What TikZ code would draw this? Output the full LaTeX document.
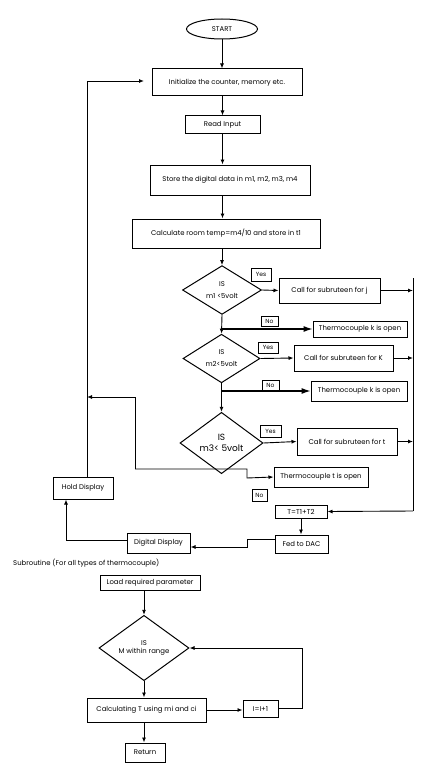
\documentclass[tikz,border=0pt]{standalone}
\usepackage{fontspec}
\setmainfont{Poppins}
\usetikzlibrary{shapes.geometric,arrows.meta}

\begin{document}
\begin{tikzpicture}
[x=1pt,y=-1pt,
  lineDecorate/.style={-{Latex[length=5pt,width=4pt]},line width=0.9pt},
  bigDecorate/.style={-{Latex[length=9pt,width=6pt]},line width=1.1pt},
  plainDecorate/.style={-,line width=0.9pt},
  boxDecorate/.style={shape=rectangle,draw,line width=1pt,inner sep=0pt,
    font=\fontsize{6.9}{8}\selectfont},
  tagDecorate/.style={shape=rectangle,draw,line width=0.8pt,inner sep=0pt,
    font=\fontsize{6}{7}\selectfont},
  diaDecorate/.style={shape=diamond,draw,line width=1pt,inner sep=0pt,
    align=center,font=\fontsize{6.9}{8}\selectfont}]
\useasboundingbox (0,0) rectangle (434,773);
%% boxes
\foreach \nodename/\x/\y/\w/\h/\txt in {
  init/227/82.5/150/27/{Initialize the counter, memory etc.},
  read/222.5/124.5/75/17/{Read Input},
  store/230/180/160/30/{Store the digital data in m1, m2, m3, m4},
  calc/226/233.5/188/29/{Calculate room temp=m4/10 and store in t1},
  cj/329.5/290.5/101/25/{Call for subruteen for j},
  tk1/360/329/94/16/{Thermocouple k is open},
  ck/343.5/358/99/26/{Call for subruteen for K},
  tk2/359/391/96/20/{Thermocouple k is open},
  ct/347/441.5/100/27/{Call for subruteen for t},
  tt/321/477/94/20/{Thermocouple t is open},
  hold/83/488/60/22/{Hold Display},
  tsum/301/511.5/52/13/{T=T1+T2},
  dac/301.5/544/53/18/{Fed to DAC},
  dig/158.5/543/63/20/{Digital Display},
  load/150/582.5/100/15/{Load required parameter},
  calcT/146.5/710/119/24/{Calculating T using mi and ci},
  inc/260.5/708.5/35/17/{I=I+1},
  ret/145/752.5/40/19/{Return}}
{
  \node (\nodename) at (\x,\y) [boxDecorate,minimum width=\w pt,minimum height=\h pt] {\txt};
}
%% yes / no tags
\foreach \nodename/\x/\y/\w/\h/\txt in {
  yes1/261/274.5/20/13/Yes,
  no1/269.5/321.5/17/10/No,
  yes2/268/347.5/20/11/Yes,
  no2/270.5/385/17/10/No,
  yes3/270.5/431/21/12/Yes,
  no3/259.5/495/15/12/No}
{
  \node (\nodename) at (\x,\y) [tagDecorate,minimum width=\w pt,minimum height=\h pt] {\txt};
}
%% start, decisions, heading
\node (start) at (222,29) [shape=ellipse,draw,line width=1pt,inner sep=0pt,
  minimum width=71pt,minimum height=20pt,font=\fontsize{6.9}{8}\selectfont] {START};
\node (d1) at (222,290) [diaDecorate,minimum width=79pt,minimum height=42pt] {IS\\[4pt]m1 <5volt};
\node (d2) at (221.5,358.5) [diaDecorate,minimum width=77pt,minimum height=47pt] {IS\\[4pt]m2<5volt};
\node (d3) at (221.5,443) [diaDecorate,minimum width=83pt,minimum height=50pt,
  font=\fontsize{9}{10}\selectfont] {IS\\[1pt]m3< 5volt};
\node (d4) at (144,648) [diaDecorate,minimum width=90pt,minimum height=50pt] {IS\\[0pt]M within range};
\node (subhead) at (13,563) [anchor=west,inner sep=0pt,font=\fontsize{6.9}{8}\selectfont]
  {Subroutine (For all types of thermocouple)};
%% junction points
\coordinate (rtop) at (413,278);
\coordinate (rbot) at (413,511);
\coordinate (loopend) at (144,81);
\coordinate (backend) at (87,397);
%% edges or lines
\path
\foreach \startnode/\endnode in {
  start.south/start.south |- init.north,
  read.north |- init.south/read.north,
  read.south/read.south |- store.north,
  read.south |- store.south/read.south |- calc.north,
  d1.north |- calc.south/d1.north,
  d1.south/d2.north,
  d2.south/d3.north,
  d1.east/cj.west,
  d2.east/ck.west,
  d3.east/ct.west,
  cj.east/cj.east -| rtop,
  ck.east/ck.east -| rtop,
  ct.east/ct.east -| rtop,
  rbot/tsum.east,
  tsum.south/tsum.south |- dac.north,
  load.south -| d4.north/d4.north,
  d4.south/d4.south |- calcT.north,
  calcT.east/calcT.east -| inc.west,
  d4.south |- calcT.south/d4.south |- ret.north}
{
  (\startnode) edge[lineDecorate] (\endnode)
};
\draw[plainDecorate] (rtop) -- (rbot);
\draw[bigDecorate] (d1.south |- tk1.west) -- (tk1.west);
\draw[bigDecorate] (d2.south |- tk2.west) -- (tk2.west);
\draw[lineDecorate] (135,469) -| (247,478) -- (tt.west);
\draw[lineDecorate] (135,469) |- (backend);
\draw[lineDecorate] (hold.north -| backend) |- (loopend);
\draw[lineDecorate] (dac.west |- 0,539) -| (247,547) -- (dig.east |- 0,547);
\draw[lineDecorate] (dig.west |- 0,540) -| (hold.south -| 66,0);
\draw[lineDecorate] (inc.east) -| (302,648) -- (d4.east);
\end{tikzpicture}
\end{document}
